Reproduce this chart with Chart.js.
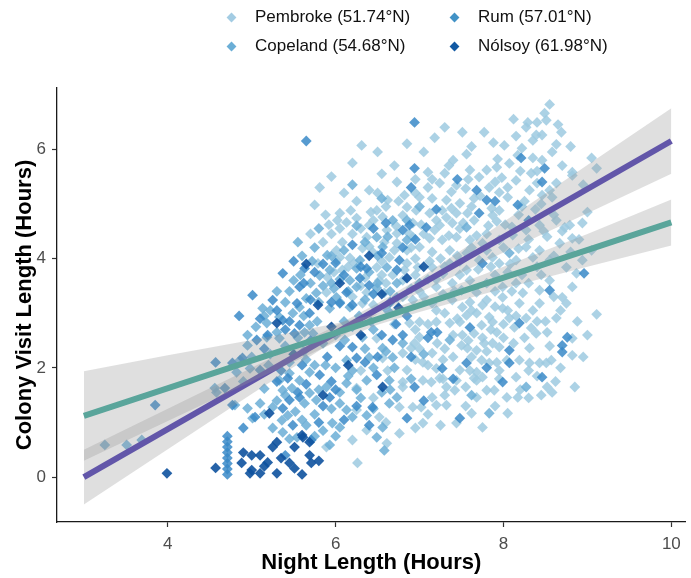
<!DOCTYPE html>
<html>
<head>
<meta charset="utf-8">
<script src="https://cdn.jsdelivr.net/npm/chart.js@4.4.0/dist/chart.umd.min.js"></script>
<style>
  html, body { margin: 0; padding: 0; background: #fff; }
  #wrap { position: relative; width: 691px; height: 578px; font-family: "Liberation Sans", Arial, sans-serif; }
  #legend .item { position: absolute; font-size: 17px; color: #111; line-height: 20px; white-space: nowrap; }
  #legend .key { position: absolute; width: 7px; height: 7px; transform: rotate(45deg); }
</style>
</head>
<body>
<div id="wrap">
  <canvas id="chart" width="691" height="578"></canvas>
  <div id="legend"></div>
</div>
<script>
// series names (legend order: column 1 then column 2)
const seriesNames = ['Pembroke (51.74°N)', 'Copeland (54.68°N)', 'Rum (57.01°N)', 'Nólsoy (61.98°N)'];

// [night length, colony visit length]
const pembrokePts = [
  [6.20,0.68],[6.25,1.63],[6.25,1.23],[6.52,1.10],[6.76,1.28],[6.80,1.65],[6.56,2.18],[6.80,2.27],[6.49,2.54],
  [6.37,0.86],[6.61,0.62],[6.76,0.80],[6.26,0.26],[5.89,0.55],
  [5.81,5.30],[6.73,5.40],[6.62,5.07],[6.82,5.16],[6.05,4.83],[6.13,4.66],[6.25,4.74],[6.49,4.88],[6.56,4.76],
  [6.40,4.61],[6.80,4.79],[6.85,4.94],[6.37,4.39],[6.61,4.52],[6.73,4.46],[6.08,4.30],[6.01,4.15],[6.01,3.97],
  [6.17,4.01],[6.32,4.19],[6.44,4.12],[6.64,4.02],[6.73,4.28],[5.79,3.91],[6.08,3.79],[6.49,3.84],[6.85,3.91],
  [5.90,3.66],[6.52,3.60],[5.89,3.38],[6.37,3.38],[6.58,3.37],[6.32,3.18],[6.31,6.07],[7.10,5.58],
  [8.55,6.82],[8.49,6.66],[8.51,6.53],[8.40,6.49],[8.29,6.49],[8.27,6.40],[7.51,6.31],[7.77,6.31],[8.15,6.24],
  [8.39,6.26],[8.46,6.26],[8.69,6.31],[8.35,6.16],[8.63,6.09],[8.01,6.07],[7.56,5.91],[8.17,5.89],[7.93,5.82],
  [8.07,5.74],[8.35,5.84],[8.46,5.80],
  [9.05,5.84],[9.11,5.65],[8.82,5.58],[8.94,4.65],[8.94,3.97],[8.75,3.84],[8.82,3.48],[8.46,5.16],[8.58,5.12],[8.73,4.57],
  [7.30,5.56],[7.60,5.62],[7.71,5.49],[7.92,5.67],[8.15,5.43],[8.33,5.56],[8.63,5.38],[8.82,5.52],[7.24,5.38],
  [7.44,5.34],[7.83,5.30],[7.95,5.21],[8.05,5.12],[8.31,5.25],[8.55,5.25],[7.00,5.12],[7.15,5.10],[7.32,5.07],
  [7.48,5.01],[7.65,5.10],[7.86,4.92],[7.95,4.88],[6.96,4.88],[7.12,4.83],[7.27,4.88],[7.44,4.83],[7.57,4.83],
  [7.87,4.79],[6.92,4.65],[7.24,4.61],[7.39,4.65],[6.92,4.39],[7.12,4.37],[7.27,4.34],[7.44,4.39],[7.60,4.34],
  [7.75,4.28],[7.95,4.34],[8.11,4.43],[8.27,4.52],[8.43,4.61],[8.63,4.70],[8.79,4.61],[6.85,4.15],[7.00,4.21],
  [7.15,4.12],[7.36,4.15],[7.56,4.10],[7.71,3.97],[7.87,4.02],[8.27,4.21],[8.43,4.15],[8.67,4.28],[8.82,4.37],
  [6.82,3.79],[6.98,3.84],[7.15,3.84],[7.36,3.91],[7.56,3.79],[7.95,3.91],[8.15,3.97],[8.35,4.02],[8.55,3.97],
  [8.87,3.73],[7.20,3.48],[7.39,3.55],[7.60,3.60],[7.80,3.55],[7.99,3.48],[8.23,3.37],[8.43,3.42],[8.70,3.29],
  [6.92,3.24],[7.15,3.18],[7.39,3.24],[7.60,3.20],[7.80,3.24],[7.99,3.29],[8.19,3.18],[8.43,3.18],[8.75,3.18],
  [9.11,2.98],[8.63,2.91],[8.82,2.54],[8.82,2.23],[8.57,2.14],[8.31,2.09],[8.43,2.09],[8.51,2.09],[8.52,1.65],
  [8.58,1.55],[8.85,1.65],[8.31,2.36],[8.39,2.63],[8.33,2.73],[8.27,2.91],[8.13,2.74],[8.07,2.91],[7.99,3.09],
  [8.19,2.14],[8.15,1.83],[8.17,1.46],[8.04,1.46],[8.05,1.17],[7.75,0.91],[7.68,1.46],[7.68,1.77],[7.68,1.92],
  [7.80,1.59],[7.89,1.59],[7.74,2.14],[7.83,2.09],[7.68,2.32],[7.77,2.45],[7.87,2.45],[7.92,2.65],[8.04,2.14],
  [7.48,1.96],[7.44,1.77],[7.42,1.59],[7.44,0.99],[7.32,1.65],[7.15,1.46],[7.02,1.28],[7.20,1.32],[7.32,1.32],
  [7.62,1.17],[7.20,1.99],[7.24,1.81],[7.14,1.74],[7.04,1.77],[6.92,1.28],[7.04,0.99],[6.85,1.96],[6.80,1.74],
  [7.15,2.27],[7.04,2.10],[7.21,2.45],[7.00,2.56],[6.94,2.45],[6.90,2.36],[7.50,2.41],[7.57,2.36],[7.51,2.60],
  [7.65,2.63],[7.74,2.78],[7.87,2.84],[7.48,2.84],[7.56,2.96],[7.51,3.11],[7.75,3.15],[7.83,2.93],[7.36,2.82],
  [7.20,2.84],[7.00,2.84],[6.88,2.82],[7.95,2.38],[7.92,2.10],[7.75,1.83],[7.65,1.81],
  [7.05,5.95],[7.18,6.21],[7.40,5.80],[7.62,6.05],[7.88,6.12],[8.12,6.55],[8.22,6.02],[8.58,5.95],[8.70,5.70],
  [8.40,5.38],[8.20,5.60],[7.98,5.48],[7.55,5.28],[7.35,5.70],[7.10,5.30],[6.95,5.45],[6.70,5.70],[6.55,5.55],
  [6.40,5.25],[6.25,5.05],[6.10,5.20],[5.95,5.50],[5.75,4.98],[5.92,4.62],[6.20,4.45],[6.45,4.70],[6.90,4.20],
  [7.05,4.45],[7.20,4.70],[7.35,4.42],[7.52,4.65],[7.68,4.42],[7.82,4.60],[8.02,4.62],[8.18,4.80],[8.38,4.90],
  [8.52,4.40],[8.60,4.05],[8.80,4.12],[8.40,3.85],[8.22,3.70],[8.05,3.75],[7.90,3.70],[7.70,3.80],[7.48,3.70],
  [7.28,3.72],[7.10,3.62],[6.90,3.45],[7.05,3.30],[7.28,3.35],[7.50,3.42],[7.68,3.38],[7.90,3.12],[8.10,3.40],
  [8.30,3.55],[8.55,3.60],[8.68,3.05],[8.50,2.85],[8.25,2.55],[8.00,2.55],[7.80,2.30],[7.62,2.20],[7.40,2.20],
  [7.28,2.15],[7.10,2.05],[6.95,2.15],[7.10,2.80],[7.30,3.00],[7.68,3.00],[8.00,2.80],[8.55,2.40],[8.68,2.00],
  [8.40,1.85],[8.20,1.60],[7.95,1.80],[7.55,1.65],[7.30,1.50],[7.55,1.30],[7.90,1.30],[8.30,1.45],[7.10,1.15],
  [6.95,0.90],[7.25,0.95],[6.60,1.00],[6.45,1.45],[6.62,1.95],[6.30,1.95],[6.05,4.55],[6.60,4.95],[6.70,4.15],
  [6.95,4.00],[7.25,4.00],[7.45,4.05],[7.80,4.15],[8.00,4.20],[8.30,4.35],[8.60,4.80],[8.45,5.00],[8.25,5.05],
  [7.62,4.95],[7.38,4.92],[7.80,5.62],[8.65,6.45],[8.80,6.05],[8.95,5.35],[9.00,4.85],[8.90,4.35],[9.05,4.15],
  [7.30,6.40],[6.85,6.10],[6.50,5.95],[6.20,5.75],[5.85,4.30],[5.95,4.45],[6.15,3.85],[6.35,3.65],[6.60,3.55],
  [6.80,3.30],[6.45,3.15],[6.20,3.30],[6.95,2.70],[6.70,2.80],[7.40,2.60],[7.75,2.55],[8.05,3.05],[8.35,3.05],
  [8.60,3.30],[8.88,2.85],[9.00,2.60],[8.95,2.20],[8.45,1.50],[8.62,1.75],
  [5.70,4.45],[5.88,4.80],[6.02,4.70],[6.18,4.88],[6.30,4.55],[6.42,4.85],[6.58,4.30],[6.72,4.60],[6.88,4.45],
  [7.02,4.62],[7.18,4.52],[7.32,4.75],[7.48,4.55],[7.65,4.70],[7.80,4.45],[7.92,4.68],[8.10,4.58],[8.22,4.95],
  [6.50,5.20],[6.75,5.05],[6.95,5.20],[7.15,5.45],[7.38,5.22],[7.58,5.45],[7.72,5.15],[7.90,5.40],[8.05,5.30],
  [8.40,5.60],[6.05,4.02],[6.22,3.92],[6.40,4.22],[6.55,3.95],[6.68,3.70],[6.95,3.70],[7.12,3.95],[7.30,3.85],
  [7.48,3.95],[7.62,4.20],[7.85,3.85],[8.08,3.90],[8.18,4.18],[8.48,4.50],[8.70,4.50],[5.98,3.75],[6.30,3.50],
  [6.55,3.70],[6.80,3.60],[7.00,3.40],[7.20,3.62],[7.42,3.40],[7.90,3.40],[8.15,3.55],[8.45,3.70],[7.20,3.05],
  [7.45,2.90],[7.62,3.05],[8.15,2.95],[8.40,2.85],[7.00,2.35],[7.30,2.35],[7.58,2.50],[8.12,2.45],[8.52,2.65],
  [7.85,2.70],[7.28,1.80],[7.60,1.95],[7.95,1.95],[8.30,1.95]
];

const copelandPts = [
  [3.25,0.59],[3.51,0.59],[3.69,0.68],[4.58,1.55],[5.01,1.08],[4.56,1.63],[5.33,2.93],[6.58,0.49],[5.96,0.99],
  [5.13,3.09],[5.18,2.82],[5.49,3.00],[5.57,3.11],[5.93,3.09],[6.05,3.20],[5.69,2.78],[4.95,2.41],[5.18,2.56],
  [5.33,2.54],[5.63,2.65],[5.73,2.63],[4.86,2.14],[4.82,1.92],[4.98,1.99],[4.80,1.32],[4.95,1.26],[5.25,1.28],
  [5.43,1.13],[5.36,1.04],[5.37,0.82],[5.54,0.73],[5.93,0.59],[6.05,0.91],[5.33,1.77],[5.57,1.77],[5.69,1.92],
  [5.89,1.65],[5.69,1.54],[5.48,1.63],[5.37,1.59],[5.63,1.35],[5.77,1.41],[6.05,1.55],[6.13,1.72],[6.37,1.77],
  [6.64,1.77],[6.13,1.23],[6.37,1.13],[6.64,1.35],[6.73,1.46],[6.13,2.14],[6.40,2.19],[6.68,2.19],[6.80,2.45],
  [6.56,2.36],[6.32,2.56],[6.11,2.51],[6.49,0.73],[6.56,0.91],
  [6.68,4.70],[6.49,4.39],[5.90,4.06],[6.29,3.97],[6.56,4.21],[6.85,4.34],[5.93,3.79],[6.25,3.82],[6.61,3.84],
  [5.81,3.69],[6.17,3.60],[6.73,3.55],[5.65,3.27],[5.77,3.37],[6.01,3.29],[6.25,3.48],[6.49,3.46],[6.73,3.29],
  [6.17,3.11],[7.83,1.17],[7.62,1.50],[8.27,1.65],[7.36,2.51],[7.00,3.55],[7.56,4.57],[8.07,4.10],
  [5.05,2.75],[5.22,3.05],[5.40,3.20],[5.62,2.95],[5.80,3.20],[5.98,3.45],[6.10,2.85],[6.28,2.95],[6.45,2.70],
  [6.62,3.05],[5.85,2.45],[5.62,2.30],[5.40,2.40],[5.22,2.25],[5.00,2.20],[4.90,1.75],[5.15,1.62],[5.30,1.40],
  [5.52,1.20],[5.75,1.15],[5.95,1.25],[5.85,0.85],[5.65,0.95],[5.45,0.70],[5.25,0.90],[5.10,1.35],[6.00,2.00],
  [6.20,1.95],[6.30,1.45],[6.55,1.55],[6.45,2.00],[6.35,2.35],[6.60,2.30],[5.60,4.05],[5.75,4.20],[5.95,4.05],
  [6.10,4.15],[6.35,4.30],[6.50,4.05],[6.62,4.40],[5.50,3.60],[5.70,3.55],[5.95,3.55],[6.40,3.75],[6.85,4.70],
  [7.00,4.95],[5.30,3.40],[5.15,2.95],[4.95,2.60],[5.45,2.10],[5.75,2.05],
  [5.45,3.40],[5.58,3.70],[5.72,3.95],[5.85,3.50],[6.05,3.62],[6.15,3.40],[6.35,3.25],[6.50,3.55],[6.65,3.40],
  [6.42,2.85],[6.20,2.75],[6.00,2.60],[5.78,2.85],[5.55,2.55],[5.30,2.65],[5.20,2.05],[5.45,1.90],[5.65,2.15],
  [5.88,2.05],[6.15,1.85],[6.25,1.60],[6.05,1.35],[5.80,1.60],[5.60,1.05],[5.40,1.50],[5.15,1.15],[5.75,0.75],
  [6.00,0.75],[6.20,1.10],[6.45,1.25],[6.65,1.60],[6.70,2.00],[6.90,1.80],[7.05,2.25],[5.55,4.30],[5.80,4.55],
  [6.25,4.60],[6.55,5.10],[6.20,5.35]
];

const rumPts = [
  [5.65,6.15],[6.94,6.49],[6.94,5.65],[5.37,3.73],[5.63,3.82],[8.21,5.84],[8.49,5.65],[7.68,5.25],[7.80,5.07],
  [8.17,4.98],[7.71,4.83],[6.88,4.61],[6.76,3.97],[7.75,3.91],[8.46,5.40],[8.96,3.73],[7.08,4.57],[8.55,3.42],
  [6.80,4.52],[6.37,3.82],[6.73,3.79],[5.57,3.48],[6.29,3.64],[6.40,3.51],[5.01,3.33],
  [8.07,2.09],[7.99,1.74],[8.07,2.32],[7.56,2.09],[7.48,1.08],[7.27,1.99],[6.94,1.65],[6.85,1.08],[7.14,2.65],
  [7.21,2.65],[7.60,2.74],[8.76,2.56],[8.70,2.41],[8.70,2.29],[8.46,1.83],[8.19,2.82],
  [4.71,0.05],[4.71,0.15],[4.71,0.25],[4.71,0.35],[4.71,0.45],[4.71,0.55],[4.71,0.65],[4.71,0.75],
  [3.85,1.32],[4.57,2.10],[4.89,2.18],[5.19,2.60],[4.68,1.63],[4.77,1.32],[4.77,2.09],
  [5.25,3.24],[5.37,2.87],[5.69,3.00],[5.57,2.78],[5.06,2.51],[5.51,2.63],[5.10,1.96],[5.04,1.10],[5.37,1.26],
  [5.49,0.95],[5.71,0.68],[5.43,1.81],[5.81,1.87],[5.57,1.46],[5.45,1.41],[5.93,1.46],[6.49,1.87],[6.44,1.28],
  [6.25,2.18],[6.68,2.51],[6.20,2.38],[5.54,3.18],[6.13,3.38],[6.05,3.18],
  [5.50,3.95],[5.75,3.75],[6.00,3.92],[6.20,4.25],[6.45,4.55],[6.60,4.65],[6.90,5.30],[7.20,4.90],[7.45,5.45],
  [7.90,5.05],[8.30,4.70],[5.30,3.05],[5.45,2.85],[5.70,2.50],[5.90,2.20],[6.05,2.40],[5.65,1.70],[5.35,1.95],
  [5.15,2.35],[5.95,1.75],[6.25,1.30],[6.50,2.20],[6.72,2.80],[6.90,2.20],[6.10,1.05],[5.85,1.30],[5.55,1.55],
  [4.85,2.95],[5.10,2.90],[6.85,2.95],[7.05,1.40],[6.40,0.95],[4.90,0.90],[5.40,0.40],
  [5.62,3.55],[5.85,3.90],[6.10,3.70],[6.30,3.85],[6.55,4.10],[6.80,4.20],[6.95,4.35],[5.95,3.20],[6.20,3.15],
  [6.45,3.35],[6.65,3.20],[5.70,3.25],[5.40,2.70],[5.60,2.05],[5.30,1.75],[5.80,1.00],[6.00,1.60],[6.35,2.10],
  [6.55,2.60],[6.80,2.60],[7.10,2.55],[7.40,1.80],[7.80,2.00]
];

const nolsoyPts = [
  [3.99,0.07],[4.57,0.17],[4.88,0.26],[5.00,0.13],[5.00,0.40],[5.10,0.40],[5.19,0.27],[5.30,0.07],[4.98,0.07],
  [5.10,0.07],[5.45,0.26],[5.51,0.16],[5.69,0.40],[5.71,0.26],[5.61,0.73],[5.69,0.64],[5.30,0.64],[5.21,1.17],
  [5.30,2.82],[5.60,0.77],[5.51,0.55],[5.79,3.15],[6.56,1.65],[6.85,3.64],
  [4.90,0.45],[5.15,0.20],[5.35,0.35],[5.60,0.05],[5.80,0.30],[5.25,0.55],[5.85,1.50],[6.15,2.05],[6.40,4.05],
  [7.05,3.85],[6.55,3.35],[5.95,2.75],[6.05,3.55],[6.75,3.10],[5.50,2.25],[6.30,2.60],[5.65,3.90]
];

// fitted lines (end points) and their confidence bands
const fitX = [3, 10];
const purpleFit = [0, 6.15];
const greenFit = [1.12, 4.66];
const bandX = [3, 4, 5, 6, 6.5, 7, 8, 9, 10];
const purpleLo = [-0.50, 0.51, 1.52, 2.51, 2.98, 3.38, 4.11, 4.83, 5.55];
const purpleHi = [0.50, 1.25, 2.00, 2.77, 3.18, 3.64, 4.67, 5.71, 6.75];
const greenLo = [0.30, 1.03, 1.75, 2.47, 2.79, 3.02, 3.45, 3.85, 4.24];
const greenHi = [1.94, 2.23, 2.51, 2.81, 2.99, 3.26, 3.85, 4.45, 5.08];

const xTicks = [4, 6, 8, 10];
const yTicks = [0, 2, 4, 6];

const pointColors = ['rgba(158,202,225,0.85)', 'rgba(107,174,214,0.85)', 'rgba(58,137,200,0.85)', 'rgba(14,82,158,0.9)'];
const keyColors = ['#a3cce3', '#6baed6', '#4292c6', '#1259a3'];
const bandColor = 'rgba(150,150,150,0.3)';
const FONT = '"Liberation Sans", Arial, sans-serif';

const toXY = pts => pts.map(p => ({ x: p[0], y: p[1] }));
const zipXY = (xs, ys) => xs.map((x, i) => ({ x: x, y: ys[i] }));

// legend, 2 x 2
const legendPos = [[0, 0], [0, 1], [1, 0], [1, 1]];
const legend = document.getElementById('legend');
seriesNames.forEach((name, i) => {
  const col = legendPos[i][0], row = legendPos[i][1];
  const cy = row ? 46 : 17;
  const key = document.createElement('span');
  key.className = 'key';
  key.style.background = keyColors[i];
  key.style.left = (col ? 451 : 228) + 'px';
  key.style.top = (cy - 3.5) + 'px';
  legend.appendChild(key);
  const item = document.createElement('div');
  item.className = 'item';
  item.textContent = name;
  item.style.left = (col ? 478 : 255) + 'px';
  item.style.top = (cy - 10) + 'px';
  legend.appendChild(item);
});

const allPts = [pembrokePts, copelandPts, rumPts, nolsoyPts];
const pointSets = allPts.map((pts, i) => ({
  type: 'scatter',
  label: seriesNames[i],
  data: toXY(pts),
  pointStyle: 'rectRot',
  pointRadius: 5.4,
  pointHoverRadius: 5.4,
  backgroundColor: pointColors[i],
  borderWidth: 0,
  order: 10 - i
}));

const lineSets = [
  { type: 'line', data: zipXY(bandX, purpleLo), borderWidth: 0, pointRadius: 0, fill: false, order: 5 },
  { type: 'line', data: zipXY(bandX, purpleHi), borderWidth: 0, pointRadius: 0, fill: '-1', backgroundColor: bandColor, order: 4 },
  { type: 'line', data: zipXY(fitX, purpleFit), borderColor: '#6256a9', borderWidth: 6, pointRadius: 0, fill: false, order: 3 },
  { type: 'line', data: zipXY(bandX, greenLo), borderWidth: 0, pointRadius: 0, fill: false, order: 2 },
  { type: 'line', data: zipXY(bandX, greenHi), borderWidth: 0, pointRadius: 0, fill: '-1', backgroundColor: bandColor, order: 1 },
  { type: 'line', data: zipXY(fitX, greenFit), borderColor: '#5aa59b', borderWidth: 6, pointRadius: 0, fill: false, order: 0 }
];

new Chart(document.getElementById('chart'), {
  type: 'scatter',
  data: { datasets: pointSets.concat(lineSets) },
  options: {
    responsive: false,
    animation: false,
    layout: { padding: { top: 88, right: 5, bottom: 0, left: 0 } },
    plugins: { legend: { display: false }, tooltip: { enabled: false } },
    scales: {
      x: {
        type: 'linear',
        min: 2.68,
        max: 10.17,
        afterBuildTicks: s => { s.ticks = xTicks.map(v => ({ value: v })); },
        afterFit: s => { s.height = 56; },
        grid: { drawOnChartArea: false, drawTicks: true, tickLength: 5, tickColor: '#333', tickWidth: 1.2 },
        border: { display: true, color: '#1a1a1a', width: 1.3 },
        ticks: { color: '#4d4d4d', font: { size: 17, family: FONT }, padding: 7 },
        title: { display: true, text: 'Night Length (Hours)', color: '#000',
          font: { size: 22, weight: 'bold', family: FONT, lineHeight: 1.2 }, padding: { top: 0, bottom: 2 } }
      },
      y: {
        type: 'linear',
        min: -0.82,
        max: 7.12,
        afterBuildTicks: s => { s.ticks = yTicks.map(v => ({ value: v })); },
        afterFit: s => { s.width = 57; },
        grid: { drawOnChartArea: false, drawTicks: true, tickLength: 5, tickColor: '#333', tickWidth: 1.2 },
        border: { display: true, color: '#1a1a1a', width: 1.3 },
        ticks: { color: '#4d4d4d', font: { size: 17, family: FONT }, padding: 6 },
        title: { display: true, text: 'Colony Visit Length (Hours)', color: '#000',
          font: { size: 22, weight: 'bold', family: FONT, lineHeight: 1.2 }, padding: { top: 12, bottom: 0 } }
      }
    }
  }
});
</script>
</body>
</html>
